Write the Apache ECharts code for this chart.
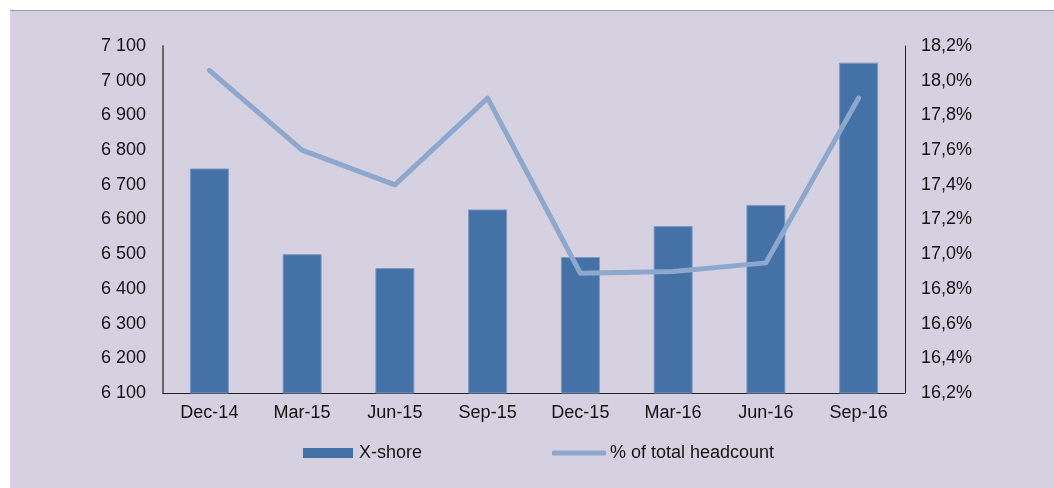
<!DOCTYPE html>
<html>
<head>
<meta charset="utf-8">
<script src="https://cdn.jsdelivr.net/npm/echarts@6/dist/echarts.min.js"></script>
<style>
html,body{margin:0;padding:0;background:#fff;}
#c{width:1054px;height:488px;}
</style>
</head>
<body>
<div id="c"></div>
<script>
const categories = ['Dec-14','Mar-15','Jun-15','Sep-15','Dec-15','Mar-16','Jun-16','Sep-16'];
const xshore = [6747, 6500, 6460, 6629, 6492, 6581, 6642, 7052];
const pctHeadcount = [18.06, 17.60, 17.40, 17.90, 16.89, 16.90, 16.95, 17.90];
const seriesNames = ['X-shore', '% of total headcount'];

const chart = echarts.init(document.getElementById('c'), null, {renderer: 'canvas'});
const font = '"Liberation Sans", Arial, sans-serif';
const fs = 18;
chart.setOption({
  backgroundColor: '#ffffff',
  animation: false,
  graphic: [
    {type: 'rect', z: -10, silent: true, shape: {x: 10, y: 10, width: 1044, height: 478}, style: {fill: '#d5d1e1'}},
    {type: 'line', z: -9, silent: true, shape: {x1: 10, y1: 10.5, x2: 1054, y2: 10.5}, style: {stroke: '#9a96bc', lineWidth: 1}}
  ],
  grid: {left: 163, right: 149, top: 46, bottom: 95, containLabel: false},
  legend: [
    {
      left: 298, top: 439,
      itemWidth: 50, itemHeight: 10,
      itemStyle: {borderWidth: 0},
      textStyle: {fontFamily: font, fontSize: fs, color: '#111', padding: [0,0,0,1]},
      data: [{name: seriesNames[0], icon: 'rect'}]
    },
    {
      left: 547, top: 439,
      itemWidth: 54, itemHeight: 5,
      itemStyle: {borderWidth: 0},
      textStyle: {fontFamily: font, fontSize: fs, color: '#111', padding: [0,0,0,-1]},
      data: [{name: seriesNames[1], icon: 'roundRect'}]
    }
  ],
  xAxis: {
    type: 'category', data: categories,
    axisLine: {lineStyle: {color: '#222', width: 1}},
    axisTick: {show: false},
    axisLabel: {fontFamily: font, fontSize: fs, color: '#111', margin: 11}
  },
  yAxis: [
    {
      type: 'value', min: 6100, max: 7100, interval: 100,
      axisLine: {show: true, lineStyle: {color: '#6b6570', width: 2}},
      axisTick: {show: false},
      splitLine: {show: false},
      axisLabel: {fontFamily: font, fontSize: fs, color: '#111', margin: 17,
        formatter: v => String(v).replace(/\B(?=(\d{3})+(?!\d))/g, ' ')}
    },
    {
      type: 'value', min: 16.2, max: 18.2, interval: 0.2,
      axisLine: {show: true, lineStyle: {color: '#222', width: 1}},
      axisTick: {show: false},
      splitLine: {show: false},
      axisLabel: {fontFamily: font, fontSize: fs, color: '#111', margin: 16,
        formatter: v => v.toFixed(1).replace('.', ',') + '%'}
    }
  ],
  series: [
    {
      name: seriesNames[0], type: 'bar', data: xshore, barWidth: 39,
      itemStyle: {color: '#4472a7', borderColor: '#7d98c4', borderWidth: 1}
    },
    {
      name: seriesNames[1], type: 'line', yAxisIndex: 1, data: pctHeadcount,
      symbol: 'none', lineStyle: {color: '#8ea7cd', width: 5, cap: 'round', join: 'round'},
      itemStyle: {color: '#8ea7cd'}
    }
  ]
});
</script>
</body>
</html>
